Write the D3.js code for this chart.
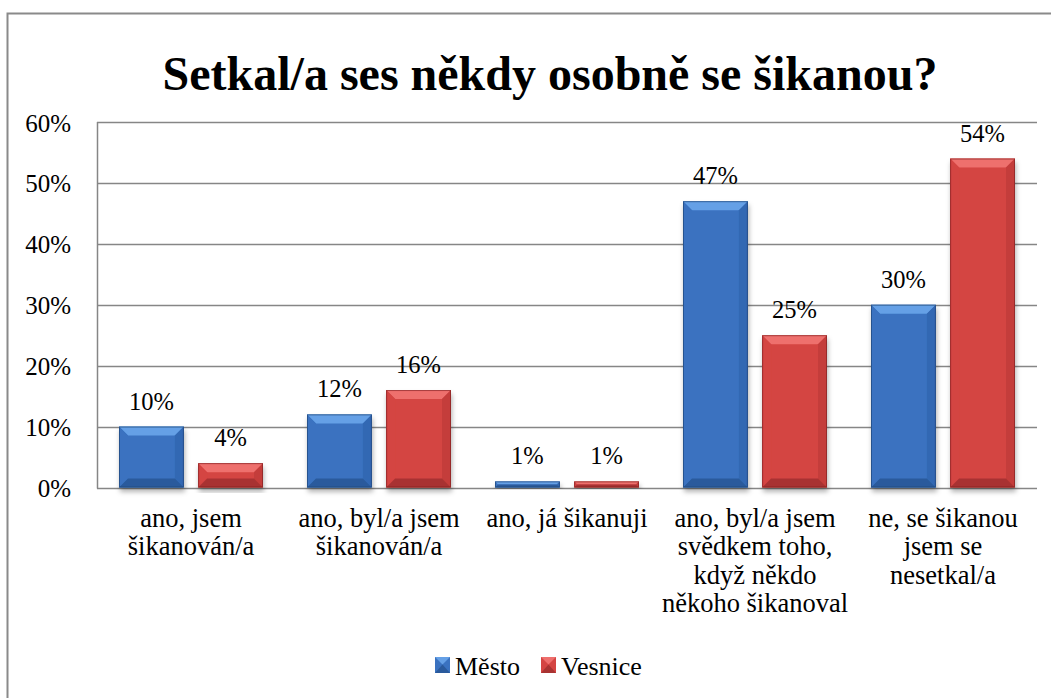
<!DOCTYPE html>
<html><head><meta charset="utf-8">
<script src="https://cdn.jsdelivr.net/npm/d3@7"></script>
<style>body{margin:0;background:#fff}svg{display:block}svg text{font-family:"Liberation Serif","Times New Roman",serif}</style>
</head><body>
<script>
const categories = [
  ["ano, jsem", "šikanován/a"],
  ["ano, byl/a jsem", "šikanován/a"],
  ["ano, já šikanuji"],
  ["ano, byl/a jsem", "svědkem toho,", "když někdo", "někoho šikanoval"],
  ["ne, se šikanou", "jsem se", "nesetkal/a"]
];
const seriesNames = ["Město", "Vesnice"];
const mesto = [10, 12, 1, 47, 30];
const vesnice = [4, 16, 1, 25, 54];
const yTicks = [0, 10, 20, 30, 40, 50, 60];
const title = "Setkal/a ses někdy osobně se šikanou?";

const W = 1051, H = 698;
const svg = d3.select("body").append("svg").attr("width", W).attr("height", H);
const defs = svg.append("defs");
const f = defs.append("filter").attr("id","sh").attr("x","-20%").attr("y","-20%").attr("width","140%").attr("height","140%");
f.append("feDropShadow").attr("dx",1).attr("dy",4).attr("stdDeviation",2.5).attr("flood-color","#000").attr("flood-opacity",0.3);

svg.append("path").attr("d","M7.5,700 L7.5,13.5 L1060,13.5").attr("fill","none").attr("stroke","#8a8a8a").attr("stroke-width",2);

svg.append("text").attr("x", 550).attr("y", 90).attr("text-anchor","middle")
  .attr("font-weight","bold").attr("font-size", 48).attr("fill","#000").text(title);

const L = 97, R = 1037, T = 122, B = 487.5;
const y = d3.scaleLinear().domain([0, 60]).range([B, T]);
const x0 = d3.scaleBand().domain(d3.range(categories.length)).range([L, R]).paddingInner(0).paddingOuter(0);
const x1 = d3.scaleBand().domain([0,1]).range([22, 166]).paddingInner(0.18).paddingOuter(0);

svg.append("g").selectAll("line").data(yTicks).join("line")
  .attr("x1", L).attr("x2", R).attr("y1", d => Math.round(y(d))+0.5).attr("y2", d => Math.round(y(d))+0.5)
  .attr("stroke", "#868686").attr("stroke-width", 1.5);
svg.append("line").attr("x1", L+0.5).attr("x2", L+0.5).attr("y1", T).attr("y2", B+1).attr("stroke","#868686").attr("stroke-width",1.5);

svg.append("g").selectAll("text").data(yTicks).join("text")
  .attr("x", 71).attr("y", d => y(d) + 9.5).attr("text-anchor","end")
  .attr("font-size", 25).attr("fill","#000").text(d => d + "%");

const colors = [
  {main:"#3a72c0", light:"#65a0e6", side:"#3368b3", dark:"#2a5a9c", edge:"#1d3f6e"},
  {main:"#d44442", light:"#ee6f6d", side:"#c43d3b", dark:"#a83332", edge:"#7a2020"}
];
const series = [mesto, vesnice];

function bevelBar(g, bx, by, bw, bh, c) {
  const b = Math.min(9, bh/2, bw/2);
  const grp = g.append("g").attr("filter","url(#sh)");
  grp.append("rect").attr("x",bx).attr("y",by).attr("width",bw).attr("height",bh).attr("fill",c.main);
  grp.append("polygon").attr("points",[[bx,by],[bx+bw,by],[bx+bw-b,by+b],[bx+b,by+b]].join(" ")).attr("fill",c.light);
  grp.append("polygon").attr("points",[[bx,by],[bx+b,by+b],[bx+b,by+bh-b],[bx,by+bh]].join(" ")).attr("fill",c.main);
  grp.append("polygon").attr("points",[[bx+bw,by],[bx+bw-b,by+b],[bx+bw-b,by+bh-b],[bx+bw,by+bh]].join(" ")).attr("fill",c.side);
  grp.append("polygon").attr("points",[[bx,by+bh],[bx+b,by+bh-b],[bx+bw-b,by+bh-b],[bx+bw,by+bh]].join(" ")).attr("fill",c.dark);
  grp.append("rect").attr("x",bx+0.5).attr("y",by+0.5).attr("width",bw-1).attr("height",Math.max(0,bh-1)).attr("fill","none").attr("stroke",c.edge).attr("stroke-width",1).attr("opacity",0.6);
}

const barsG = svg.append("g");
series.forEach((vals, si) => {
  vals.forEach((v, ci) => {
    const bx = x0(ci) + x1(si), bw = x1.bandwidth();
    const by = y(v), bh = y(0) - y(v);
    bevelBar(barsG, bx, by, bw, bh, colors[si]);
    barsG.append("text").attr("x", bx + bw/2).attr("y", by - 17).attr("text-anchor","middle")
      .attr("font-size", 24.5).attr("fill","#000").text(v + "%");
  });
});

const cg = svg.append("g");
categories.forEach((lines, ci) => {
  const t = cg.append("text").attr("text-anchor","middle").attr("font-size", 26.5).attr("fill","#000");
  lines.forEach((ln, i) => {
    t.append("tspan").attr("x", x0(ci) + x0.bandwidth()/2).attr("y", 527 + i*28.3).text(ln);
  });
});

const leg = svg.append("g");
const legItems = [{x:435, name:seriesNames[0], c:colors[0]}, {x:541, name:seriesNames[1], c:colors[1]}];
legItems.forEach(it => {
  const s = 15, lx = it.x, ly = 657;
  leg.append("rect").attr("x",lx).attr("y",ly).attr("width",s).attr("height",s+1).attr("fill",it.c.main);
  leg.append("polygon").attr("points",[[lx,ly],[lx+s,ly],[lx+s/2,ly+s/2]].join(" ")).attr("fill",it.c.light);
  leg.append("polygon").attr("points",[[lx,ly+s+1],[lx+s,ly+s+1],[lx+s/2,ly+s/2]].join(" ")).attr("fill",it.c.dark);
  leg.append("text").attr("x", lx + 20).attr("y", 675).attr("font-size", 26).attr("fill","#000").text(it.name);
});
</script>
</body></html>
